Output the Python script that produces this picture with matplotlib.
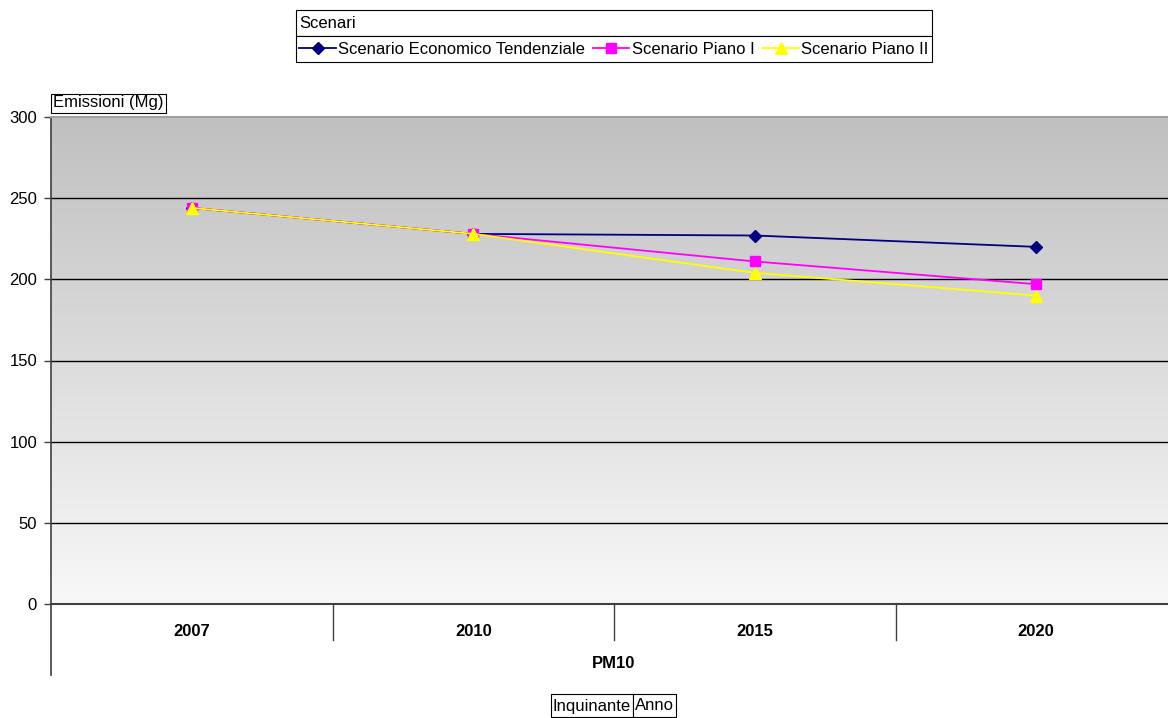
import numpy as np
import matplotlib
matplotlib.use("Agg")
import matplotlib.pyplot as plt
from matplotlib.lines import Line2D
from matplotlib.patches import Rectangle

plt.rcParams['font.family'] = ['Liberation Sans', 'DejaVu Sans']

# Data
years = ['2007', '2010', '2015', '2020']
pollutant = 'PM10'
tendenziale = [244, 228, 227, 220]
piano_1 = [244, 228, 211, 197]
piano_2 = [244, 228, 204, 190]
series_names = ['Scenario Economico Tendenziale', 'Scenario Piano I', 'Scenario Piano II']
y_ticks = [0, 50, 100, 150, 200, 250, 300]

FS = 12
W, H = 1168, 718
fig = plt.figure(figsize=(W / 100, H / 100), dpi=100)
fig.patch.set_facecolor('white')

def fx(px):
    return px / W

def fy(py):
    return 1 - py / H

left, right, top, bottom = 51, 1177, 117, 604
ax = fig.add_axes([fx(left), fy(bottom), fx(right - left), fy(top) - fy(bottom)])

# Vertical gradient background: light at the bottom, grey at the top
grad = np.linspace(0, 1, 256).reshape(-1, 1)
c_top = np.array([192, 192, 192]) / 255
c_bot = np.array([248, 248, 248]) / 255
img = c_bot[None, None, :] * (1 - grad[:, :, None]) + c_top[None, None, :] * grad[:, :, None]
ax.imshow(img, extent=[-0.5, 3.5, 0, 300], origin='lower', aspect='auto', zorder=0)

ax.set_xlim(-0.5, 3.5)
ax.set_ylim(0, 300)

# Gridlines
for v in y_ticks[1:-1]:
    ax.axhline(v, color='black', lw=1, zorder=1)

x = np.arange(len(years))
ax.plot(x, tendenziale, color='#000080', lw=1.3, marker='D', ms=6.5,
        mfc='#000080', mec='#000080', zorder=3, label=series_names[0])
ax.plot(x, piano_1, color='#FF00FF', lw=1.3, marker='s', ms=7.5,
        mfc='#FF00FF', mec='#FF00FF', zorder=4, label=series_names[1])
ax.plot(x, piano_2, color='#FFFF00', lw=1.3, marker='^', ms=8,
        mfc='#FFFF00', mec='#FFFF00', zorder=5, label=series_names[2])

for s in ['right', 'bottom']:
    ax.spines[s].set_visible(False)
ax.spines['top'].set_color('#a0a0a0')
ax.spines['top'].set_linewidth(1.5)
ax.spines['left'].set_color('#404040')
ax.spines['left'].set_linewidth(1.2)
ax.axhline(0, color='#404040', lw=1.5, zorder=2, clip_on=False)

ax.set_yticks(y_ticks)
ax.set_yticklabels([str(v) for v in y_ticks], fontsize=FS)
ax.tick_params(axis='y', length=5, width=1, color='#404040', pad=5)
ax.set_xticks([])

# Category axis below the plot
trans = ax.get_xaxis_transform()
ax_h_px = bottom - top
for xs in [0.5, 1.5, 2.5]:
    ax.add_line(Line2D([xs, xs], [0, -36 / ax_h_px], transform=trans,
                       color='#404040', lw=1, clip_on=False))
ax.add_line(Line2D([-0.5, -0.5], [0, -71 / ax_h_px], transform=trans,
                   color='#404040', lw=1.2, clip_on=False))
for xi, yr in zip(x, years):
    ax.text(xi, -27 / ax_h_px, yr, transform=trans, ha='center', va='center',
            fontsize=FS, fontweight='bold')
ax.text(1.5, -59 / ax_h_px, pollutant, transform=trans, ha='center', va='center',
        fontsize=FS, fontweight='bold')

# Axis caption box
fig.text(fx(53), fy(103), 'Emissioni (Mg)', ha='left', va='center', fontsize=FS,
         bbox=dict(boxstyle='square,pad=0.12', fc='white', ec='black', lw=0.8))

# Field buttons at the bottom
for x0, x1, label in [(551, 633, 'Inquinante'), (633, 676, 'Anno')]:
    fig.add_artist(Rectangle((fx(x0), fy(717)), fx(x1 - x0), fy(694) - fy(717),
                             transform=fig.transFigure, fc='white', ec='black', lw=0.8))
    fig.text(fx((x0 + x1) / 2), fy(706), label, ha='center', va='center', fontsize=FS)

# Legend frame with title row
lx0, lx1, ly0, ly1, ly2 = 296, 932, 10, 36, 62
fig.add_artist(Rectangle((fx(lx0), fy(ly1)), fx(lx1 - lx0), fy(ly0) - fy(ly1),
                         transform=fig.transFigure, fc='white', ec='black', lw=0.8))
fig.add_artist(Rectangle((fx(lx0), fy(ly2)), fx(lx1 - lx0), fy(ly1) - fy(ly2),
                         transform=fig.transFigure, fc='white', ec='black', lw=0.8))
fig.text(fx(299), fy(23), 'Scenari', ha='left', va='center', fontsize=FS)

handles, labels = ax.get_legend_handles_labels()
leg = fig.legend(handles, labels, loc='center',
                 bbox_to_anchor=(fx((lx0 + lx1) / 2), fy((ly1 + ly2) / 2)),
                 ncol=3, frameon=False, fontsize=FS, handlelength=2.2,
                 handletextpad=0.15, columnspacing=0.45, borderpad=0, borderaxespad=0)

fig.savefig('out.png', dpi=100)
